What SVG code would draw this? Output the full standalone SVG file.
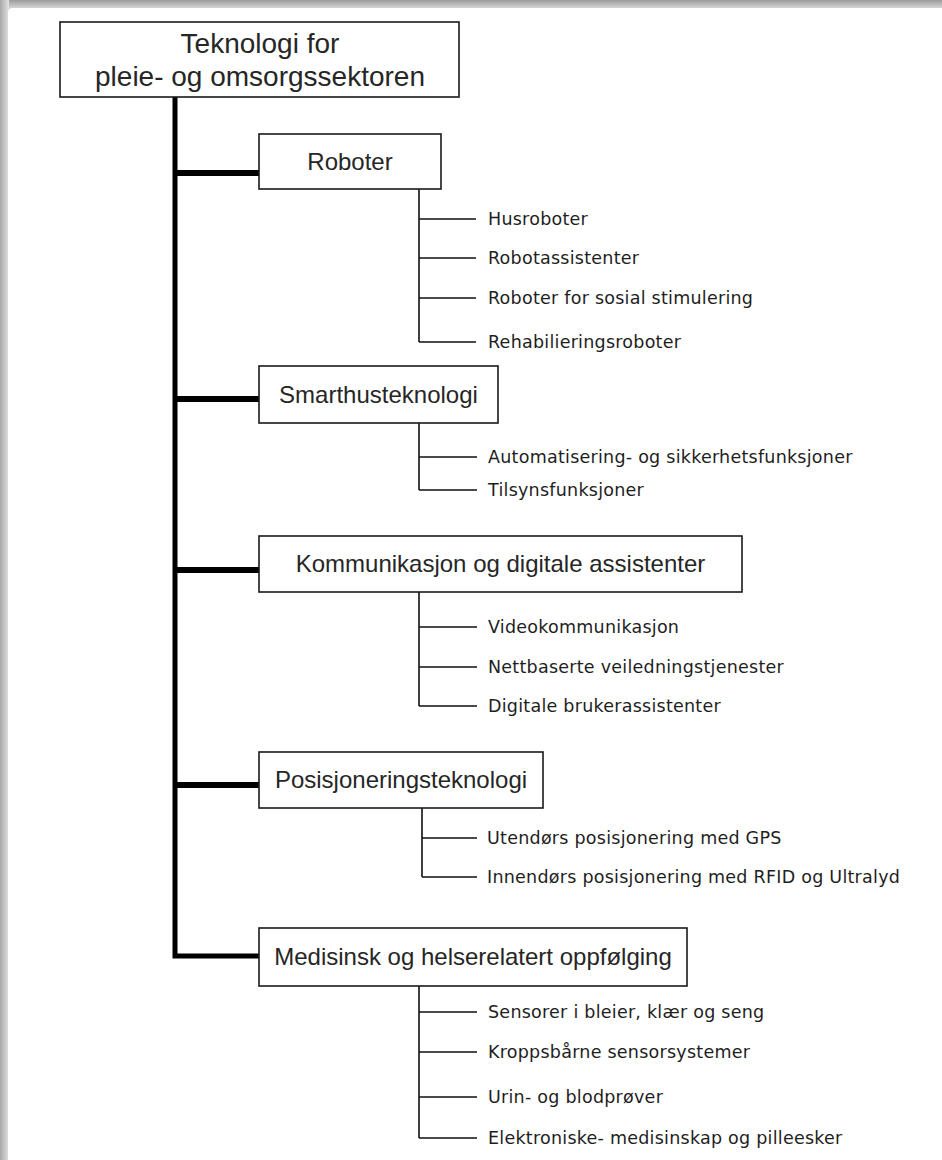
<svg xmlns="http://www.w3.org/2000/svg" width="942" height="1160" viewBox="0 0 942 1160">
<style>
.box{fill:#fff;stroke:#1a1a1a;stroke-width:1.6}
.t1{font-family:"Liberation Sans",Arial,sans-serif;font-size:28px;fill:#262626;text-anchor:middle}
.t2{font-family:"Liberation Sans",Arial,sans-serif;font-size:24px;fill:#262626;text-anchor:middle}
.t3{font-family:"DejaVu Sans",Verdana,sans-serif;font-size:17.5px;letter-spacing:0.25px;fill:#1e1e1e}
.trunk{fill:none;stroke:#000;stroke-width:5;stroke-linejoin:miter}
.br{fill:none;stroke:#000;stroke-width:6}
.sub{fill:none;stroke:#111;stroke-width:1.6}
</style>
<defs>
<linearGradient id="gt" x1="0" y1="0" x2="0" y2="1"><stop offset="0" stop-color="#9c9c9c"/><stop offset="1" stop-color="#dcdcdc"/></linearGradient>
<linearGradient id="gl" x1="0" y1="0" x2="1" y2="0"><stop offset="0" stop-color="#a8a8a8"/><stop offset="1" stop-color="#e2e2e2"/></linearGradient>
</defs>
<rect x="0" y="0" width="942" height="1160" fill="#fff"/>
<rect x="0" y="0" width="942" height="9" fill="url(#gt)"/>
<rect x="0" y="0" width="9" height="1160" fill="url(#gl)"/>
<rect x="8" y="8" width="960" height="1180" rx="5" fill="#fff"/>

<g id="connectors">
<path class="trunk" d="M175 97 V956 H259"/>
<path class="br" d="M175 173 H259 M175 399 H259 M175 570 H259 M175 785 H259"/>
<path class="sub" d="M419 189 V342 M419 219 H476 M419 258 H476 M419 298 H476 M419 342 H476"/>
<path class="sub" d="M419 423 V490 M419 457 H477 M419 490 H477"/>
<path class="sub" d="M419 592 V706 M419 627 H477 M419 667 H477 M419 706 H477"/>
<path class="sub" d="M422 808 V877 M422 838 H477 M422 877 H477"/>
<path class="sub" d="M419 986 V1138 M419 1012 H477 M419 1052 H477 M419 1097 H477 M419 1138 H477"/>
</g>

<g id="root">
<rect class="box" x="60" y="22" width="399" height="75"/>
<text class="t1" x="260" y="53">Teknologi for</text>
<text class="t1" x="260" y="86">pleie- og omsorgssektoren</text>
</g>

<g id="roboter">
<rect class="box" x="259" y="134" width="182" height="55"/>
<text class="t2" x="350" y="170">Roboter</text>
</g>
<g id="roboter-items">
<text class="t3" x="488" y="225">Husroboter</text>
<text class="t3" x="488" y="264">Robotassistenter</text>
<text class="t3" x="488" y="304">Roboter for sosial stimulering</text>
<text class="t3" x="488" y="348">Rehabilieringsroboter</text>
</g>

<g id="smarthus">
<rect class="box" x="259" y="366" width="239" height="57"/>
<text class="t2" x="378.5" y="403">Smarthusteknologi</text>
</g>
<g id="smarthus-items">
<text class="t3" x="488" y="463">Automatisering- og sikkerhetsfunksjoner</text>
<text class="t3" x="488" y="496">Tilsynsfunksjoner</text>
</g>

<g id="kommunikasjon">
<rect class="box" x="259" y="536" width="483" height="56"/>
<text class="t2" x="500.5" y="572">Kommunikasjon og digitale assistenter</text>
</g>
<g id="kommunikasjon-items">
<text class="t3" x="488" y="633">Videokommunikasjon</text>
<text class="t3" x="488" y="673">Nettbaserte veiledningstjenester</text>
<text class="t3" x="488" y="712">Digitale brukerassistenter</text>
</g>

<g id="posisjonering">
<rect class="box" x="259" y="752" width="284" height="56"/>
<text class="t2" x="401" y="788">Posisjoneringsteknologi</text>
</g>
<g id="posisjonering-items">
<text class="t3" x="487" y="844">Utendørs posisjonering med GPS</text>
<text class="t3" x="487" y="883">Innendørs posisjonering med RFID og Ultralyd</text>
</g>

<g id="medisinsk">
<rect class="box" x="259" y="928" width="428" height="58"/>
<text class="t2" x="473" y="965">Medisinsk og helserelatert oppfølging</text>
</g>
<g id="medisinsk-items">
<text class="t3" x="488" y="1018">Sensorer i bleier, klær og seng</text>
<text class="t3" x="488" y="1058">Kroppsbårne sensorsystemer</text>
<text class="t3" x="488" y="1103">Urin- og blodprøver</text>
<text class="t3" x="488" y="1144">Elektroniske- medisinskap og pilleesker</text>
</g>
</svg>
